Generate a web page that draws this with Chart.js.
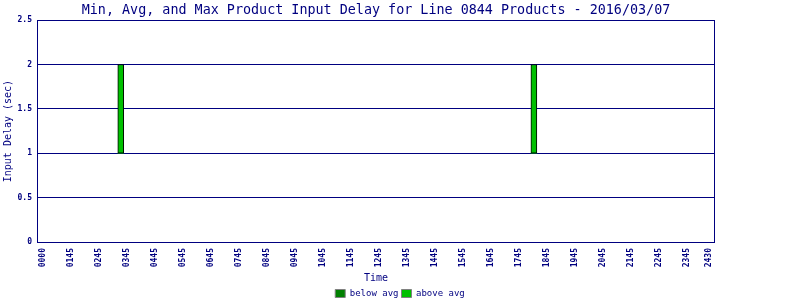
<!DOCTYPE html>
<html>
<head>
<meta charset="utf-8">
<script src="https://cdn.jsdelivr.net/npm/chart.js@4/dist/chart.umd.min.js"></script>
<style>
  html, body { margin: 0; padding: 0; background: #ffffff; }
  #wrap { width: 800px; height: 300px; position: relative; }
</style>
</head>
<body>
<div id="wrap"><canvas id="c" width="800" height="300"></canvas></div>
<script>
// ---- data ----
const timeLabels = ['0000','0145','0245','0345','0445','0545','0645','0745','0845','0945',
  '1045','1145','1245','1345','1445','1545','1645','1745','1845','1945',
  '2045','2145','2245','2345','2430'];
const timeTickValues = [0,1,2,3,4,5,6,7,8,9,10,11,12,13,14,15,16,17,18,19,20,21,22,23,23.81];
const barTimes = [2.77, 17.54];
const minDelay = [1, 1];
const avgDelay = [1, 1];
const maxDelay = [2, 2];
const seriesNames = ['below avg', 'above avg'];

const NAVY = '#000080';
const FONT = "'DejaVu Sans Mono', 'Liberation Mono', monospace";

const belowData = barTimes.map((t, i) => ({ x: t, y: [minDelay[i], avgDelay[i]] }));
const aboveData = barTimes.map((t, i) => ({ x: t, y: [avgDelay[i], maxDelay[i]] }));

const framePlugin = {
  id: 'frame',
  beforeDatasetsDraw(chart) {
    const a = chart.chartArea, ctx = chart.ctx;
    ctx.save();
    ctx.strokeStyle = NAVY;
    ctx.lineWidth = 1;
    ctx.strokeRect(Math.round(a.left) + 0.5, Math.round(a.top) + 0.5,
      Math.round(a.right - a.left) - 1, Math.round(a.bottom - a.top));
    ctx.restore();
  }
};

new Chart(document.getElementById('c'), {
  type: 'bar',
  data: {
    datasets: [
      { label: seriesNames[0], data: belowData, backgroundColor: '#008000', borderColor: '#000000',
        borderWidth: 0, barThickness: 6, grouped: false, yAxisID: 'y', xAxisID: 'x' },
      { label: seriesNames[1], data: aboveData, backgroundColor: '#00c000', borderColor: '#000000',
        borderWidth: 1, borderSkipped: false, barThickness: 6, grouped: false, yAxisID: 'y', xAxisID: 'x' }
    ]
  },
  options: {
    responsive: false,
    animation: false,
    devicePixelRatio: 1,
    layout: { padding: 0 },
    plugins: {
      tooltip: { enabled: false },
      title: {
        display: true,
        fullSize: false,
        text: 'Min, Avg, and Max Product Input Delay for Line 0844 Products - 2016/03/07',
        color: NAVY,
        font: { family: FONT, size: 13.4, weight: 'normal' },
        padding: { top: 2, bottom: 2 }
      },
      legend: {
        position: 'bottom',
        maxHeight: 14,
        labels: {
          color: NAVY,
          font: { family: FONT, size: 9 },
          boxWidth: 10,
          boxHeight: 8,
          padding: 3,
          generateLabels(chart) {
            return chart.data.datasets.map((ds, i) => ({
              text: ds.label,
              fillStyle: ds.backgroundColor,
              strokeStyle: '#808080',
              lineWidth: 1,
              fontColor: NAVY,
              hidden: false,
              datasetIndex: i
            }));
          }
        }
      }
    },
    scales: {
      x: {
        type: 'linear',
        position: 'bottom',
        min: -0.225,
        max: 24.015,
        offset: false,
        grid: { display: false, drawTicks: false },
        border: { display: false },
        afterBuildTicks(scale) { scale.ticks = timeTickValues.map(v => ({ value: v })); },
        afterFit(scale) { scale.height = 44; },
        ticks: {
          autoSkip: false,
          minRotation: 90,
          maxRotation: 90,
          padding: 6,
          color: NAVY,
          font: { family: FONT, size: 8, weight: 'bold' },
          callback(value) {
            const i = timeTickValues.indexOf(value);
            return i >= 0 ? timeLabels[i] : '';
          }
        },
        title: {
          display: true,
          text: 'Time',
          color: NAVY,
          font: { family: FONT, size: 10 },
          padding: { top: 0, bottom: 2 }
        }
      },
      y: {
        type: 'linear',
        position: 'left',
        min: 0,
        max: 2.5,
        grid: { color: NAVY, lineWidth: 1, drawTicks: false },
        border: { display: false },
        afterFit(scale) { scale.width = 37; },
        ticks: {
          stepSize: 0.5,
          padding: 5,
          color: NAVY,
          font: { family: FONT, size: 8, weight: 'bold' },
          callback(value) { return String(value); }
        },
        title: {
          display: true,
          text: 'Input Delay (sec)',
          color: NAVY,
          font: { family: FONT, size: 10 },
          padding: { top: 2, bottom: 0 }
        }
      },
      yRightSpace: {
        type: 'linear',
        position: 'right',
        display: true,
        grid: { display: false, drawTicks: false },
        border: { display: false },
        ticks: { display: false },
        afterFit(scale) { scale.width = 85; }
      }
    }
  },
  plugins: [framePlugin]
});
</script>
</body>
</html>
